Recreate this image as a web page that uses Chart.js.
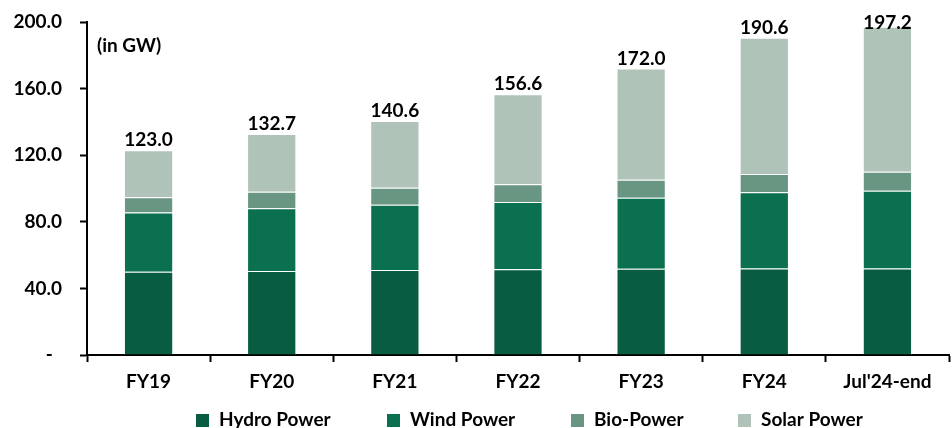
<!DOCTYPE html>
<html>
<head>
<meta charset="utf-8">
<script src="https://cdn.jsdelivr.net/npm/chart.js@4.4.1/dist/chart.umd.min.js"></script>
<style>
  html, body { margin: 0; padding: 0; background: #ffffff; }
  #wrap { width: 952px; height: 428px; position: relative; }
</style>
</head>
<body>
<div id="wrap"><canvas id="chart" width="952" height="428"></canvas></div>
<script>
// Installed renewable capacity by source (GW)
const categories = ["FY19", "FY20", "FY21", "FY22", "FY23", "FY24", "Jul'24-end"];
const hydroPower = [50.0, 50.4, 51.0, 51.5, 51.8, 51.9, 52.0];
const windPower  = [35.6, 37.7, 39.2, 40.4, 42.6, 45.9, 46.7];
const bioPower   = [9.2, 10.0, 10.3, 10.7, 10.8, 10.9, 11.3];
const solarPower = [28.2, 34.6, 40.1, 54.0, 66.8, 81.9, 87.2];
const yTicks = [0, 40, 80, 120, 160, 200];

const FONT = "Lato, 'Open Sans', sans-serif";
const FSIZE = 19;
const INK = '#000000';

// Totals written above each stacked column
const totalsPlugin = {
  id: 'totals',
  afterDatasetsDraw(chart) {
    const ctx = chart.ctx;
    const top = chart.getDatasetMeta(chart.data.datasets.length - 1);
    ctx.save();
    ctx.font = `bold ${FSIZE}px ${FONT}`;
    ctx.fillStyle = INK;
    ctx.textAlign = 'center';
    ctx.textBaseline = 'alphabetic';
    categories.forEach((c, i) => {
      const total = chart.data.datasets.reduce((s, ds) => s + ds.data[i], 0);
      const el = top.data[i];
      const y = Math.max(el.y - 4, 29);
      ctx.fillText(total.toFixed(1), el.x, y);
    });
    // unit note
    ctx.textAlign = 'left';
    ctx.textBaseline = 'middle';
    ctx.fillText('(in GW)', 97, 46);
    ctx.restore();
  }
};

// Legend row along the bottom edge
const legendRow = {
  id: 'legendRow',
  afterDraw(chart) {
    const ctx = chart.ctx;
    const xs = [196, 387, 571, 738];
    const yMid = 420;
    ctx.save();
    ctx.font = `bold ${FSIZE}px ${FONT}`;
    ctx.textAlign = 'left';
    ctx.textBaseline = 'middle';
    chart.data.datasets.forEach((ds, i) => {
      ctx.fillStyle = ds.backgroundColor;
      ctx.fillRect(xs[i], yMid - 6, 13, 13);
      ctx.fillStyle = INK;
      ctx.fillText(ds.label, xs[i] + 23, yMid);
    });
    ctx.restore();
  }
};

const seg = { borderColor: 'rgba(255,255,255,0.45)', borderWidth: 1, categoryPercentage: 1.0, barPercentage: 0.4 };

new Chart(document.getElementById('chart'), {
  type: 'bar',
  data: {
    labels: categories,
    datasets: [
      { label: 'Hydro Power', data: hydroPower, backgroundColor: '#075c41', ...seg },
      { label: 'Wind Power',  data: windPower,  backgroundColor: '#0a7050', ...seg },
      { label: 'Bio-Power',   data: bioPower,   backgroundColor: '#689682', ...seg },
      { label: 'Solar Power', data: solarPower, backgroundColor: '#b0c3b9', ...seg }
    ]
  },
  options: {
    responsive: false,
    animation: false,
    devicePixelRatio: 1,
    layout: { padding: { left: 0, right: 3, top: 22, bottom: 30 } },
    plugins: {
      legend: { display: false },
      tooltip: { enabled: false }
    },
    scales: {
      x: {
        stacked: true,
        grid: { display: true, drawOnChartArea: false, offset: true, tickLength: 7, tickColor: '#000', tickWidth: 2 },
        border: { color: '#000', width: 2 },
        ticks: { color: INK, font: { family: FONT, size: FSIZE, weight: 'bold' }, padding: 8, maxRotation: 0 },
        afterFit(scale) { scale.height = 43; }
      },
      y: {
        stacked: true,
        min: 0,
        max: 200,
        grid: { display: true, drawOnChartArea: false, tickLength: 7, tickColor: '#000', tickWidth: 2 },
        border: { color: '#000', width: 2 },
        afterBuildTicks(scale) { scale.ticks = yTicks.map(v => ({ value: v })); },
        ticks: {
          color: INK,
          font: { family: FONT, size: FSIZE, weight: 'bold' },
          padding: 18,
          callback: v => v === 0 ? '-  ' : v.toFixed(1)
        },
        afterFit(scale) { scale.width = 87; scale.paddingTop = 0; scale.paddingBottom = 0; }
      }
    }
  },
  plugins: [totalsPlugin, legendRow]
});
</script>
</body>
</html>
